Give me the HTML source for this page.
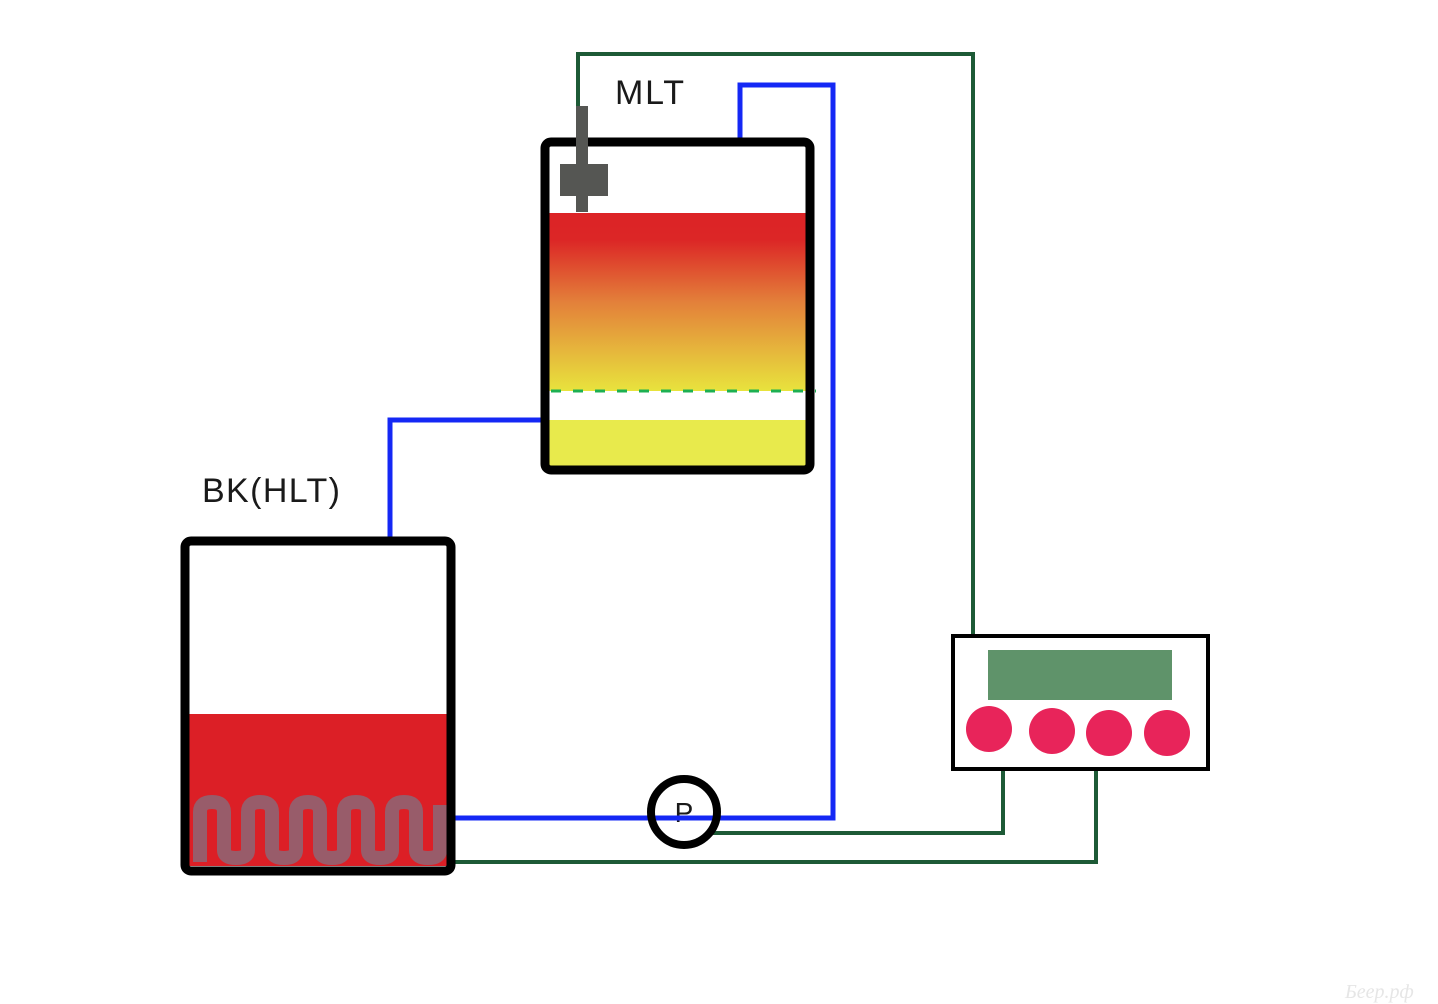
<!DOCTYPE html>
<html><head><meta charset="utf-8"><style>
html,body{margin:0;padding:0;background:#fff;}
svg{display:block;}
</style></head><body>
<svg width="1438" height="1004" viewBox="0 0 1438 1004" xmlns="http://www.w3.org/2000/svg">
<defs>
<linearGradient id="g" x1="0" y1="0" x2="0" y2="1">
<stop offset="0" stop-color="#dc2326"/>
<stop offset="0.15" stop-color="#dc2626"/>
<stop offset="0.5" stop-color="#e3803a"/>
<stop offset="1" stop-color="#e8e33d"/>
</linearGradient>
</defs>
<g fill="none" stroke="#1d5a36" stroke-width="4">
<polyline points="578,108 578,54 973,54 973,636"/>
<polyline points="1003,769 1003,833 712,833"/>
<polyline points="1096,769 1096,862 452,862"/>
</g>
<g fill="none" stroke="#1428f5" stroke-width="5">
<polyline points="740,138 740,85 833,85 833,818 448,818"/>
<polyline points="390,540 390,420 543,420"/>
</g>
<rect x="549" y="213" width="257" height="178" fill="url(#g)"/>
<rect x="549" y="420" width="257" height="46" fill="#e8ea4c"/>
<line x1="551" y1="391" x2="816" y2="391" stroke="#1db052" stroke-width="3" stroke-dasharray="10,12"/>
<rect x="545" y="142" width="265" height="328" rx="6" fill="none" stroke="#000" stroke-width="9"/>
<rect x="576" y="106" width="12" height="106" fill="#555653"/>
<rect x="560" y="164" width="48" height="32" fill="#555653"/>
<text x="615" y="104" font-family="Liberation Sans, sans-serif" font-size="34" textLength="69" fill="#1a1a1a">MLT</text>
<rect x="189" y="714" width="258" height="152" fill="#dc1f26"/>
<path d="M200,862 L200,812 Q200,802 212,802 Q224,802 224,812 L224,850 Q224,858 236,858 Q248,858 248,850 L248,812 Q248,802 260,802 Q272,802 272,812 L272,850 Q272,858 284,858 Q296,858 296,850 L296,812 Q296,802 308,802 Q320,802 320,812 L320,850 Q320,858 332,858 Q344,858 344,850 L344,812 Q344,802 356,802 Q368,802 368,812 L368,850 Q368,858 380,858 Q392,858 392,850 L392,812 Q392,802 404,802 Q416,802 416,812 L416,850 Q416,858 428,858 Q440,858 440,850 L440,805" fill="none" stroke="#985c6a" stroke-width="14"/>
<rect x="185" y="541" width="266" height="330" rx="6" fill="none" stroke="#000" stroke-width="9"/>
<text x="202" y="502" font-family="Liberation Sans, sans-serif" font-size="34" textLength="138" fill="#1a1a1a">BK(HLT)</text>
<circle cx="684" cy="812" r="33" fill="none" stroke="#000" stroke-width="8"/>
<text x="684" y="822" text-anchor="middle" font-family="Liberation Sans, sans-serif" font-size="28" fill="#1a1a1a">P</text>
<line x1="660" y1="818" x2="712" y2="818" stroke="#1428f5" stroke-width="5"/>
<rect x="953" y="636" width="255" height="133" fill="#fff" stroke="#000" stroke-width="4"/>
<rect x="988" y="650" width="184" height="50" fill="#5f936a"/>
<g fill="#e8245a">
<circle cx="989" cy="729" r="23"/>
<circle cx="1052" cy="731" r="23"/>
<circle cx="1109" cy="733" r="23"/>
<circle cx="1167" cy="733" r="23"/>
</g>
<text x="1345" y="998" font-family="Liberation Serif, serif" font-style="italic" font-size="20" fill="#e6e6e6">Бeep.рф</text>
</svg>
</body></html>
